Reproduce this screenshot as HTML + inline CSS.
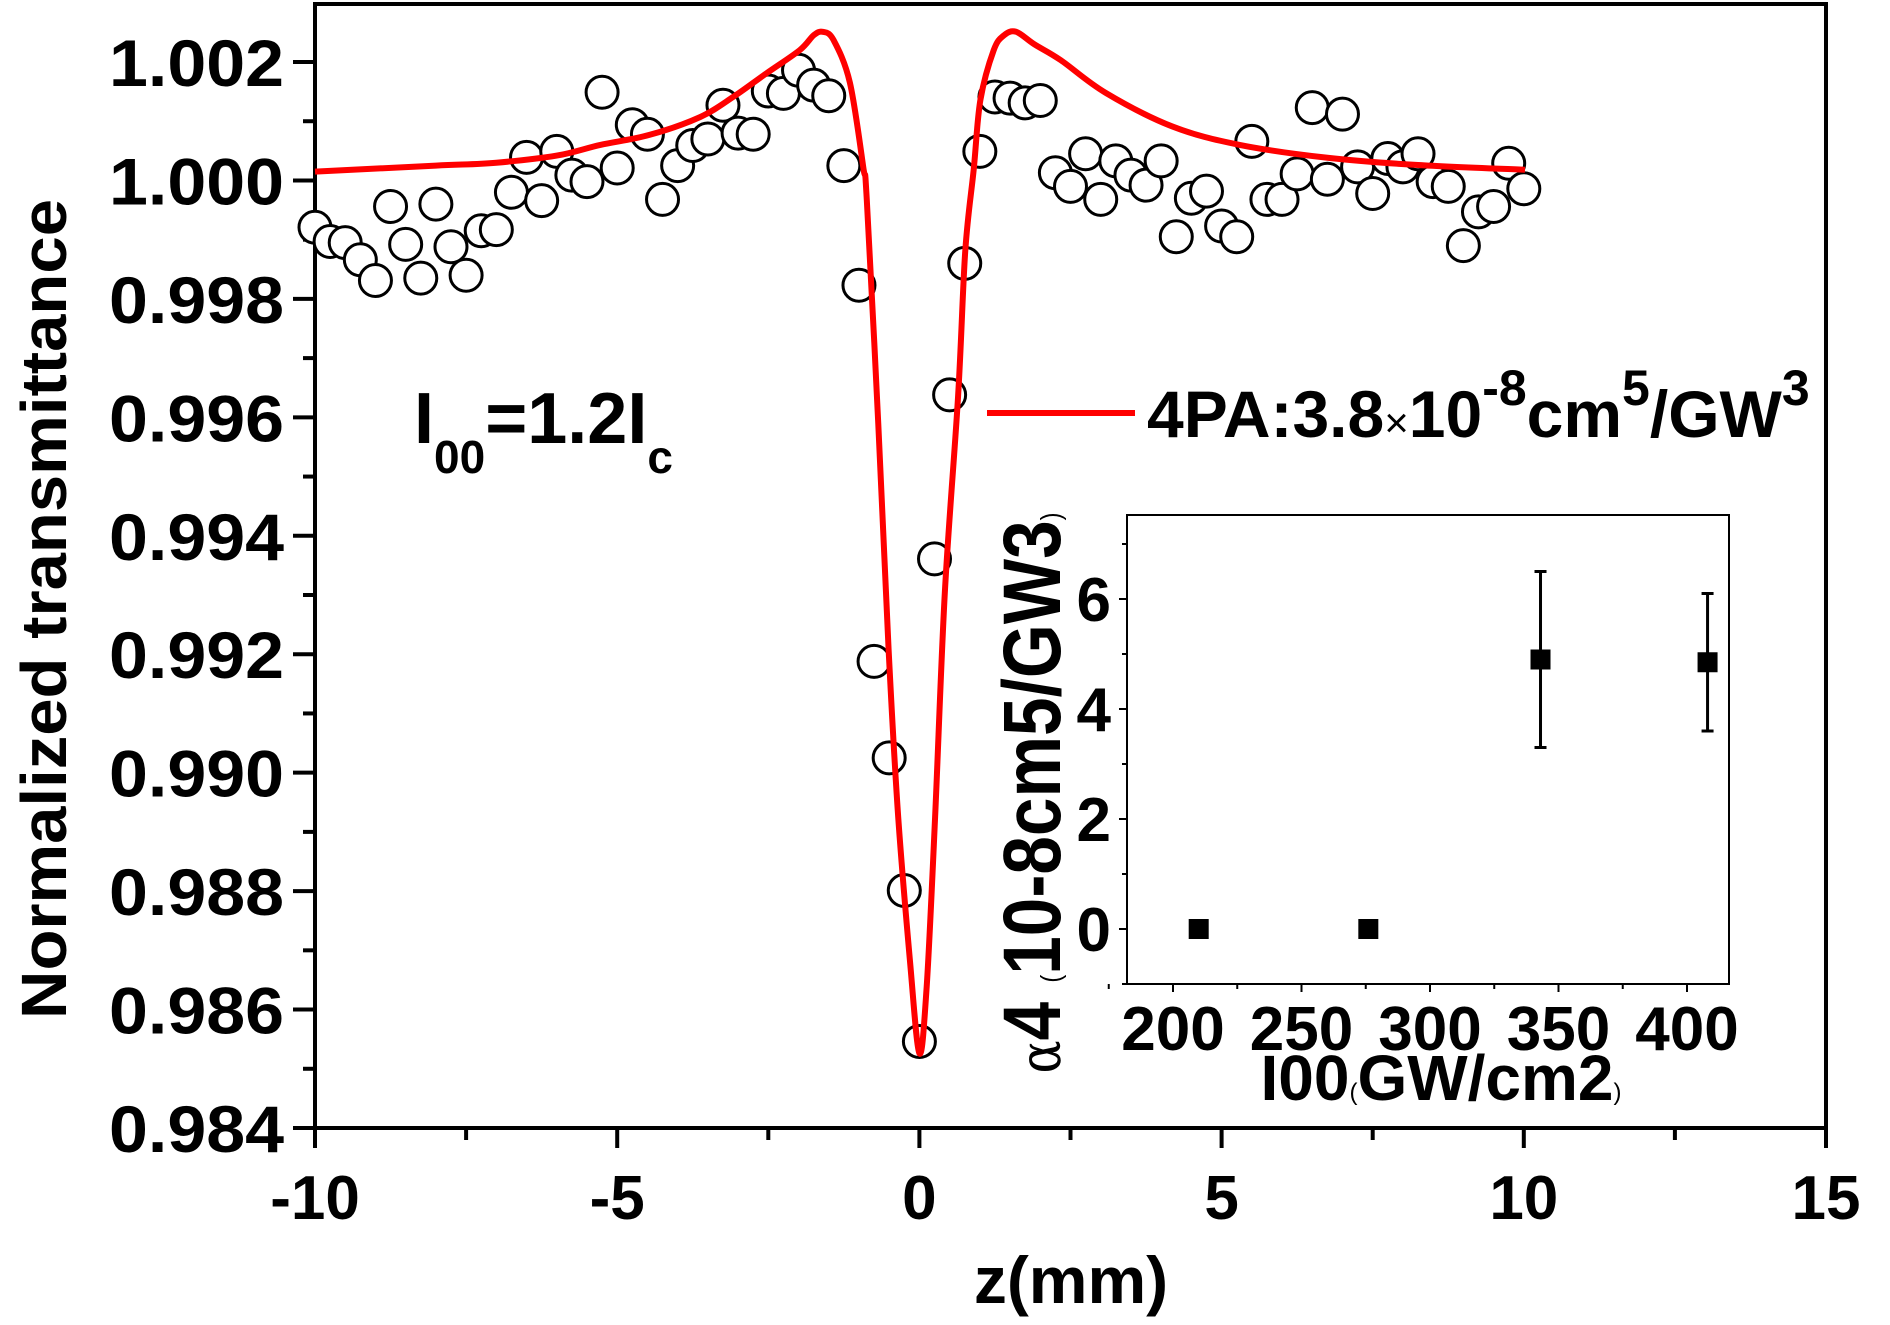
<!DOCTYPE html>
<html><head><meta charset="utf-8"><style>
html,body{margin:0;padding:0;background:#fff;}
svg{display:block;font-family:"Liberation Sans",Arial,sans-serif;font-weight:bold;}
</style></head>
<body>
<svg id="chart" width="1890" height="1325" viewBox="0 0 1890 1325" xmlns="http://www.w3.org/2000/svg">
<g id="main"></g>
<g id="inset"></g>
</svg>
<script>
// ---- main chart data ----
const zValues = [-10,-9.75,-9.5,-9.25,-9,-8.75,-8.5,-8.25,-8,-7.75,-7.5,-7.25,-7,-6.75,-6.5,-6.25,-6,-5.75,-5.5,-5.25,-5,-4.75,-4.5,-4.25,-4,-3.75,-3.5,-3.25,-3,-2.75,-2.5,-2.25,-2,-1.75,-1.5,-1.25,-1,-0.75,-0.5,-0.25,0,0.25,0.5,0.75,1,1.25,1.5,1.75,2,2.25,2.5,2.75,3,3.25,3.5,3.75,4,4.25,4.5,4.75,5,5.25,5.5,5.75,6,6.25,6.5,6.75,7,7.25,7.5,7.75,8,8.25,8.5,8.75,9,9.25,9.5,9.75,10];
const tValues = [0.99921,0.99897,0.99895,0.99866,0.99831,0.99956,0.99892,0.99835,0.99960,0.99888,0.99840,0.99915,0.99917,0.99980,1.00039,0.99966,1.00049,1.00009,0.99998,1.00149,1.00021,1.00094,1.00078,0.99968,1.00025,1.00059,1.00070,1.00127,1.00080,1.00078,1.00151,1.00147,1.00186,1.00161,1.00143,1.00025,0.99823,0.99188,0.99025,0.98801,0.98546,0.99361,0.99638,0.99860,1.00049,1.00141,1.00139,1.00131,1.00135,1.00013,0.99990,1.00045,0.99968,1.00033,1.00009,0.99992,1.00033,0.99905,0.99970,0.99982,0.99923,0.99905,1.00066,0.99968,0.99968,1.00011,1.00123,1.00002,1.00112,1.00023,0.99978,1.00037,1.00023,1.00045,0.99998,0.99990,0.99890,0.99947,0.99956,1.00029,0.99986];
const fitZ = [-10,-8,-7,-6,-5.28,-4.46,-3.63,-3.08,-2.53,-1.98,-1.75,-1.6,-1.42,-1.15,-0.93,-0.87,-0.68,-0.51,-0.35,-0.16,0,0.12,0.26,0.42,0.64,0.76,0.9,1.01,1.23,1.4,1.6,1.9,2.34,3.08,4.19,5.3,6.77,8.25,10.02];
const fitT = [1.00015,1.00025,1.0003,1.00042,1.0006,1.00077,1.00107,1.00141,1.00181,1.0022,1.00245,1.00251,1.00237,1.00165,1.00023,0.99967,0.99588,0.99208,0.98925,0.98687,0.98526,0.98639,0.98925,0.99303,0.99636,0.99882,1.0002,1.00136,1.0022,1.00245,1.00251,1.0023,1.00203,1.00148,1.00091,1.0006,1.00038,1.00026,1.00018];
const xTicks = [-10,-5,0,5,10,15];
const xTickLabels = ["-10","-5","0","5","10","15"];
const yTicks = [0.984,0.986,0.988,0.990,0.992,0.994,0.996,0.998,1.000,1.002];
const yTickLabels = ["0.984","0.986","0.988","0.990","0.992","0.994","0.996","0.998","1.000","1.002"];
// ---- inset data ----
const insetI = [210,276,343,408];
const insetA = [0,0,4.9,4.85];
const insetErrLo = [0,0,3.3,3.6];
const insetErrHi = [0,0,6.5,6.1];
const insetXTicks = [200,250,300,350,400];
const insetXTickLabels = ["200","250","300","350","400"];
const insetYTicks = [0,2,4,6];
const insetYTickLabels = ["0","2","4","6"];

const NS = "http://www.w3.org/2000/svg";
function mk(parent, tag, attrs, text){
  const e = document.createElementNS(NS, tag);
  for (const k in attrs) e.setAttribute(k, attrs[k]);
  if (text !== undefined) e.textContent = text;
  parent.appendChild(e); return e;
}
const L=315,R=1826,T=4,B=1128;
const xs = z => L + (z + 10) * (R - L) / 25;
const ys = t => 62 + (1.002 - t) / 0.018 * (B - 62);
const main = document.getElementById('main');

let f = mk(main,'rect',{x:L,y:T,width:R-L,height:B-T,fill:'none',stroke:'#000','stroke-width':4});



xTicks.forEach((v,i)=>{
  const x=xs(v);
  let t=mk(main,'line',{x1:x,y1:B,x2:x,y2:B+20,stroke:'#000','stroke-width':4});
  
  
  if (i<xTicks.length-1){
    let m=mk(main,'line',{x1:xs(v+2.5),y1:B,x2:xs(v+2.5),y2:B+12,stroke:'#000','stroke-width':4});
    
    
  }
  let lb=mk(main,'text',{x:x,y:1219,'font-size':62,'text-anchor':'middle'},xTickLabels[i]);
  
  
});
yTicks.forEach((v,i)=>{
  const y=ys(v);
  let t=mk(main,'line',{x1:L-22,y1:y,x2:L,y2:y,stroke:'#000','stroke-width':4});
  
  
  if (i<yTicks.length-1){
    let m=mk(main,'line',{x1:L-12,y1:ys(v+0.001),x2:L,y2:ys(v+0.001),stroke:'#000','stroke-width':4});
    
    
  }
  let lb=mk(main,'text',{x:284,y:y+24,'font-size':66,'text-anchor':'end',textLength:175,lengthAdjust:'spacingAndGlyphs'},yTickLabels[i]);
  
  
});
let xt=mk(main,'text',{x:1071,y:1303,'font-size':66,'text-anchor':'middle'},'z(mm)');


let yt=mk(main,'text',{x:0,y:0,'font-size':64,'text-anchor':'middle',textLength:820,lengthAdjust:'spacingAndGlyphs',transform:'translate(66,609) rotate(-90)'},'Normalized transmittance');



zValues.forEach((z,i)=>{
  let c=mk(main,'circle',{cx:xs(z),cy:ys(tValues[i]),r:16,fill:'#fff',stroke:'#000','stroke-width':3});
  
  
});
const P = fitZ.map((z,i)=>[xs(z), ys(fitT[i])]);
let d = `M${P[0][0].toFixed(1)},${P[0][1].toFixed(1)}`;
for (let i=0;i<P.length-1;i++){
  const p0=P[Math.max(0,i-1)], p1=P[i], p2=P[i+1], p3=P[Math.min(P.length-1,i+2)];
  const c1=[p1[0]+(p2[0]-p0[0])/6, p1[1]+(p2[1]-p0[1])/6];
  const c2=[p2[0]-(p3[0]-p1[0])/6, p2[1]-(p3[1]-p1[1])/6];
  d += ` C${c1[0].toFixed(1)},${c1[1].toFixed(1)} ${c2[0].toFixed(1)},${c2[1].toFixed(1)} ${p2[0].toFixed(1)},${p2[1].toFixed(1)}`;
}
let fl=mk(main,'path',{d:d,fill:'none',stroke:'#ff0000','stroke-width':6,'stroke-linejoin':'round'});



let an=mk(main,'text',{x:414,y:443,'font-size':72});


mk(an,'tspan',{},'I');
mk(an,'tspan',{'font-size':46,dy:30},'00');
mk(an,'tspan',{dy:-30},'=1.2I');
mk(an,'tspan',{'font-size':46,dy:30},'c');

let ll=mk(main,'line',{x1:987,y1:413,x2:1135,y2:413,stroke:'#ff0000','stroke-width':6});


let lt=mk(main,'text',{x:1147,y:437,'font-size':66});


mk(lt,'tspan',{},'4PA:3.8');
mk(lt,'tspan',{'font-size':42,'font-weight':'normal'},'×');
mk(lt,'tspan',{},'10');
mk(lt,'tspan',{'font-size':50,dy:-32},'-8');
mk(lt,'tspan',{dy:32},'cm');
mk(lt,'tspan',{'font-size':50,dy:-32},'5');
mk(lt,'tspan',{dy:32},'/GW');
mk(lt,'tspan',{'font-size':50,dy:-32},'3');

// ---- inset ----
const inset=document.getElementById('inset');
const iL=1127,iR=1729,iT=515,iB=984;
const ix = v => 1173 + (v-200)*(1687-1173)/200;
const iy = v => 929 - v*55;
let ifr=mk(inset,'rect',{x:iL,y:iT,width:iR-iL,height:iB-iT,fill:'#fff',stroke:'#000','stroke-width':2});


insetXTicks.forEach((v,i)=>{
  let t=mk(inset,'line',{x1:ix(v),y1:iB,x2:ix(v),y2:iB+8,stroke:'#000','stroke-width':2});
  
  
  let m=mk(inset,'line',{x1:ix(v-25),y1:iB,x2:ix(v-25),y2:iB+5,stroke:'#000','stroke-width':2});
  
  
  let lb=mk(inset,'text',{x:ix(v),y:1050,'font-size':62,'text-anchor':'middle'},insetXTickLabels[i]);
  
  
});
insetYTicks.forEach((v,i)=>{
  let t=mk(inset,'line',{x1:iL-8,y1:iy(v),x2:iL,y2:iy(v),stroke:'#000','stroke-width':2});
  
  
  let m=mk(inset,'line',{x1:iL-5,y1:iy(v+1),x2:iL,y2:iy(v+1),stroke:'#000','stroke-width':2});
  
  
  let lb=mk(inset,'text',{x:1111,y:iy(v)+22,'font-size':62,'text-anchor':'end'},insetYTickLabels[i]);
  
  
});
let im=mk(inset,'line',{x1:iL-5,y1:iy(-1),x2:iL,y2:iy(-1),stroke:'#000','stroke-width':2});


insetI.forEach((v,i)=>{
  if (insetErrHi[i]>insetErrLo[i]){
    let e=mk(inset,'path',{d:`M${ix(v)},${iy(insetErrLo[i])}V${iy(insetErrHi[i])}M${ix(v)-6},${iy(insetErrLo[i])}h12M${ix(v)-6},${iy(insetErrHi[i])}h12`,stroke:'#000','stroke-width':3,fill:'none'});
    
    
  }
  let s=mk(inset,'rect',{x:ix(v)-10,y:iy(insetA[i])-10,width:20,height:20,fill:'#000'});
  
  
});
let ixt=mk(inset,'text',{x:1441,y:1100,'font-size':64,'text-anchor':'middle'});


mk(ixt,'tspan',{},'I00');
mk(ixt,'tspan',{'font-size':24,'font-weight':'normal'},'(');
mk(ixt,'tspan',{},'GW/cm2');
mk(ixt,'tspan',{'font-size':24,'font-weight':'normal'},')');
let iyt=mk(inset,'text',{x:0,y:0,'font-size':82,'text-anchor':'middle',textLength:561,lengthAdjust:'spacingAndGlyphs',transform:'translate(1060,793) rotate(-90)'});


mk(iyt,'tspan',{'font-family':'"DejaVu Serif",serif','font-weight':'normal','font-size':58},'α');
mk(iyt,'tspan',{},'4 ');
mk(iyt,'tspan',{'font-size':28,'font-weight':'normal'},'(');
mk(iyt,'tspan',{},'10-8cm5/GW3');
mk(iyt,'tspan',{'font-size':28,'font-weight':'normal'},')');
</script>
</body></html>
